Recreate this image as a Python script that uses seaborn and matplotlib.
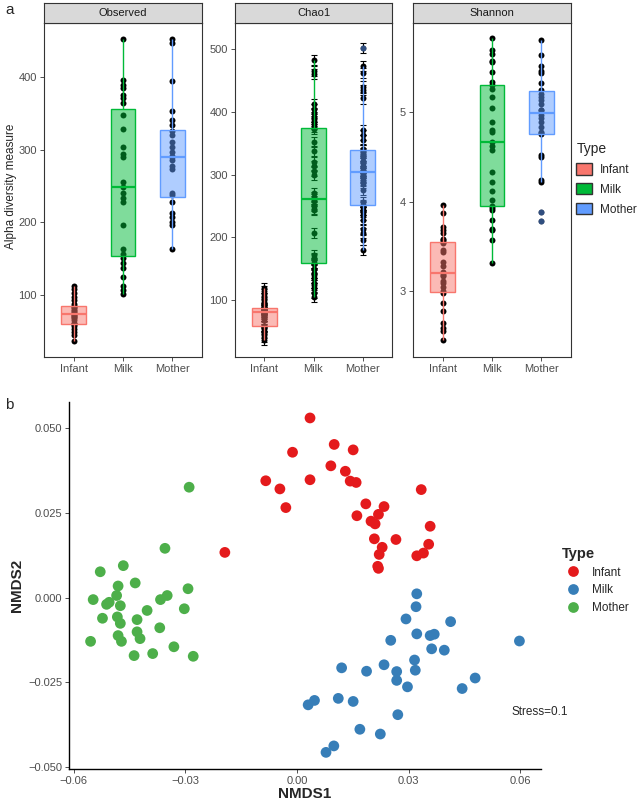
import numpy as np
import pandas as pd
import seaborn as sns
import matplotlib.pyplot as plt
from matplotlib.patches import Patch

# ---- data ----
types = ['Infant', 'Milk', 'Mother']
measures = ['Observed', 'Chao1', 'Shannon']
box_colors = ['#F8766D', '#00BA38', '#619CFF']
dot_colors = ['#E41A1C', '#377EB8', '#4DAF4A']

observed_infant = [112, 108, 103, 98, 94, 88, 85, 84, 82, 80, 78, 76, 75, 74,
                   73, 72, 70, 68, 66, 62, 60, 60, 58, 54, 50, 45, 37]
observed_milk = [452, 396, 389, 384, 375, 371, 364, 347, 329, 304, 294, 290, 256,
                 249, 241, 233, 228, 196, 163, 157, 151, 144, 137, 125, 113, 107, 102]
observed_mother = [452, 446, 394, 353, 341, 334, 325, 320, 311, 304, 297, 291, 290,
                   286, 277, 273, 240, 238, 228, 213, 208, 201, 196, 163]

chao1_infant = [119, 115, 110, 104, 98, 92, 88, 87, 86, 85, 84, 83, 82, 81, 80,
                78, 75, 70, 60, 59, 60, 58, 54, 48, 42, 37]
chao1_milk = [482, 465, 460, 412, 405, 398, 392, 385, 380, 375, 372, 352, 338, 320,
              313, 305, 300, 270, 265, 261, 258, 250, 245, 243, 207, 172, 168, 165,
              160, 158, 150, 143, 140, 135, 128, 125, 120, 112, 106]
chao1_mother = [501, 472, 461, 440, 435, 421, 371, 363, 355, 340, 339, 335, 330, 328,
                321, 318, 313, 310, 305, 304, 302, 300, 297, 295, 290, 286, 275, 257,
                252, 250, 248, 244, 240, 236, 228, 214, 207, 196, 180]
chao1_se = 8

shannon_infant = [3.96, 3.87, 3.72, 3.69, 3.65, 3.58, 3.57, 3.55, 3.54, 3.46, 3.44,
                  3.33, 3.28, 3.22, 3.20, 3.18, 3.17, 3.12, 3.09, 3.05, 3.00, 2.98,
                  2.87, 2.78, 2.65, 2.59, 2.56, 2.46]
shannon_milk = [5.82, 5.69, 5.65, 5.57, 5.56, 5.44, 5.33, 5.30, 5.26, 5.17, 5.04,
                4.89, 4.80, 4.78, 4.67, 4.62, 4.57, 4.33, 4.22, 4.12, 4.02, 3.95,
                3.93, 3.91, 3.80, 3.70, 3.69, 3.57, 3.32]
shannon_mother = [5.80, 5.63, 5.51, 5.46, 5.43, 5.32, 5.24, 5.20, 5.17, 5.13, 5.09,
                  5.02, 5.02, 4.96, 4.93, 4.89, 4.83, 4.78, 4.76, 4.75, 4.52, 4.50,
                  4.24, 4.22, 3.88, 3.78]

alpha_ylims = {'Observed': (15, 474), 'Chao1': (10, 541), 'Shannon': (2.27, 5.99)}
alpha_yticks = {'Observed': [100, 200, 300, 400],
                'Chao1': [100, 200, 300, 400, 500],
                'Shannon': [3, 4, 5]}

infant_x = [0.0035, -0.0012, 0.0100, 0.0151, 0.0091, 0.0130, 0.0143, 0.0159, -0.0084,
            -0.0046, 0.0035, -0.0030, -0.0194, 0.0334, 0.0185, 0.0234, 0.0161, 0.0219,
            0.0199, 0.0210, 0.0358, 0.0208, 0.0266, 0.0229, 0.0221, 0.0354, 0.0340,
            0.0322, 0.0217, 0.0219]
infant_y = [0.0529, 0.0428, 0.0451, 0.0435, 0.0388, 0.0372, 0.0343, 0.0339, 0.0344,
            0.0320, 0.0347, 0.0265, 0.0133, 0.0318, 0.0276, 0.0268, 0.0241, 0.0245,
            0.0225, 0.0217, 0.0210, 0.0173, 0.0171, 0.0148, 0.0127, 0.0157, 0.0131,
            0.0123, 0.0092, 0.0086]
milk_x = [0.0322, 0.0320, 0.0293, 0.0413, 0.0322, 0.0358, 0.0369, 0.0252, 0.0598,
          0.0362, 0.0396, 0.0316, 0.0318, 0.0234, 0.0268, 0.0268, 0.0297, 0.0187,
          0.0120, 0.0479, 0.0444, 0.0047, 0.0030, 0.0111, 0.0151, 0.0271, 0.0169,
          0.0224, 0.0099, 0.0078]
milk_y = [0.0011, -0.0027, -0.0063, -0.0071, -0.0107, -0.0112, -0.0108, -0.0126,
          -0.0128, -0.0151, -0.0155, -0.0184, -0.0214, -0.0198, -0.0218, -0.0244,
          -0.0263, -0.0217, -0.0207, -0.0237, -0.0268, -0.0303, -0.0316, -0.0297,
          -0.0306, -0.0345, -0.0388, -0.0402, -0.0437, -0.0456]
mother_x = [-0.0290, -0.0355, -0.0467, -0.0529, -0.0435, -0.0481, -0.0293, -0.0548,
            -0.0485, -0.0512, -0.0505, -0.0475, -0.0367, -0.0349, -0.0403, -0.0303,
            -0.0523, -0.0483, -0.0475, -0.0430, -0.0369, -0.0430, -0.0481, -0.0555,
            -0.0472, -0.0422, -0.0331, -0.0438, -0.0388, -0.0279]
mother_y = [0.0325, 0.0145, 0.0094, 0.0076, 0.0043, 0.0034, 0.0026, -0.0006, 0.0006,
            -0.0020, -0.0014, -0.0024, -0.0006, 0.0006, -0.0038, -0.0033, -0.0061,
            -0.0057, -0.0076, -0.0065, -0.0089, -0.0101, -0.0112, -0.0129, -0.0129,
            -0.0121, -0.0145, -0.0171, -0.0165, -0.0173]

nmds1_ticks = [-0.06, -0.03, 0.00, 0.03, 0.06]
nmds1_labels = ['\u22120.06', '\u22120.03', '0.00', '0.03', '0.06']
nmds2_ticks = [-0.050, -0.025, 0.000, 0.025, 0.050]
nmds2_labels = ['\u22120.050', '\u22120.025', '0.000', '0.025', '0.050']

# ---- tables ----
alpha_values = {
    'Observed': [observed_infant, observed_milk, observed_mother],
    'Chao1': [chao1_infant, chao1_milk, chao1_mother],
    'Shannon': [shannon_infant, shannon_milk, shannon_mother],
}
rows = []
for m in measures:
    for t, vals in zip(types, alpha_values[m]):
        rows += [(m, t, v) for v in vals]
alpha_df = pd.DataFrame(rows, columns=['measure', 'Type', 'value'])
alpha_df['Type'] = pd.Categorical(alpha_df['Type'], categories=types)

nmds_df = pd.concat([
    pd.DataFrame({'NMDS1': infant_x, 'NMDS2': infant_y, 'Type': 'Infant'}),
    pd.DataFrame({'NMDS1': milk_x, 'NMDS2': milk_y, 'Type': 'Milk'}),
    pd.DataFrame({'NMDS1': mother_x, 'NMDS2': mother_y, 'Type': 'Mother'}),
], ignore_index=True)

# ---- style ----
sns.set_style('white')
plt.rcParams['font.family'] = ['Liberation Sans', 'DejaVu Sans']
plt.rcParams['axes.unicode_minus'] = True

W, H = 644, 805
fig = plt.figure(figsize=(W / 100, H / 100), dpi=100)


def px_axes(x0, y0, x1, y1):
    return fig.add_axes([x0 / W, 1 - y1 / H, (x1 - x0) / W, (y1 - y0) / H])


panel_x = [(44, 202), (235, 392), (413, 571)]
tick_grey = '#4D4D4D'

for m, (x0, x1) in zip(measures, panel_x):
    ax = px_axes(x0, 23, x1, 357)
    sub = alpha_df[alpha_df['measure'] == m]
    sns.stripplot(data=sub, x='Type', y='value', order=types, jitter=False,
                  color='black', size=4.3, linewidth=0, zorder=1, ax=ax)
    if m == 'Chao1':
        ax.errorbar(sub['Type'].cat.codes, sub['value'], yerr=chao1_se, fmt='none',
                    ecolor='black', elinewidth=0.8, capsize=2, capthick=0.8, zorder=2)
    sns.boxplot(data=sub, x='Type', y='value', hue='Type', order=types, hue_order=types,
                palette=box_colors, saturation=1, width=0.5, showcaps=False, whis=1.5,
                legend=False, ax=ax,
                flierprops=dict(marker='o', markersize=4.3, markeredgewidth=0))
    for cont in ax.containers:
        if not hasattr(cont, 'boxes'):
            continue
        box = cont.boxes[0]
        c = box.get_facecolor()[:3]
        box.set_facecolor((*c, 0.5))
        box.set_edgecolor(c)
        box.set_linewidth(1)
        box.set_zorder(3)
        for ln in cont.whiskers:
            ln.set_color(c)
            ln.set_linewidth(1)
            ln.set_zorder(3)
        for ln in cont.medians:
            ln.set_color(c)
            ln.set_linewidth(1.6)
            ln.set_zorder(3)
        for fl in cont.fliers:
            fl.set_markerfacecolor(c)
            fl.set_alpha(0.5)
            fl.set_zorder(4)
    ax.set_xlim(-0.6, 2.6)
    ax.set_ylim(*alpha_ylims[m])
    ax.set_yticks(alpha_yticks[m])
    ax.set_xlabel('')
    ax.set_ylabel('')
    ax.tick_params(axis='both', labelsize=8, labelcolor=tick_grey, color='#333333',
                   length=3, width=0.6, left=True, bottom=True, pad=2)
    for sp in ax.spines.values():
        sp.set_color('#333333')
        sp.set_linewidth(0.8)

    strip = px_axes(x0, 3, x1, 23)
    strip.set_facecolor('#D9D9D9')
    strip.set_xticks([])
    strip.set_yticks([])
    for sp in strip.spines.values():
        sp.set_color('#333333')
        sp.set_linewidth(0.8)
    strip.text(0.5, 0.5, m, ha='center', va='center', fontsize=8, color='#1A1A1A',
               transform=strip.transAxes)

fig.text(11 / W, 1 - 186 / H, 'Alpha diversity measure', rotation=90,
         ha='center', va='center', fontsize=8.5)
fig.text(5 / W, 1 - 10 / H, 'a', ha='left', va='center', fontsize=11)
fig.text(5 / W, 1 - 405 / H, 'b', ha='left', va='center', fontsize=11)

box_handles = [Patch(facecolor=c, edgecolor='#333333', linewidth=1) for c in box_colors]
leg1 = fig.legend(box_handles, types, title='Type', loc='upper left',
                  bbox_to_anchor=(568 / W, 1 - 134 / H), frameon=False, fontsize=8.5,
                  title_fontsize=10, handlelength=1.3, handleheight=1.1,
                  handletextpad=0.7, labelspacing=0.6, alignment='left',
                  borderaxespad=0.3)

# ---- NMDS ----
ax2 = px_axes(69, 402, 541, 769)
sns.scatterplot(data=nmds_df, x='NMDS1', y='NMDS2', hue='Type', hue_order=types,
                palette=dot_colors, s=60, linewidth=0, ax=ax2)
ax2.set_xlim(-0.0613, 0.0656)
ax2.set_ylim(-0.0505, 0.0576)
ax2.set_xticks(nmds1_ticks)
ax2.set_xticklabels(nmds1_labels)
ax2.set_yticks(nmds2_ticks)
ax2.set_yticklabels(nmds2_labels)
ax2.set_xlabel('NMDS1', fontsize=11, fontweight='bold', labelpad=1)
ax2.set_ylabel('NMDS2', fontsize=11, fontweight='bold', labelpad=3)
ax2.tick_params(axis='both', labelsize=8, labelcolor=tick_grey, color='#333333',
                length=3, width=0.6, left=True, bottom=True, pad=2)
sns.despine(ax=ax2)
for side in ['left', 'bottom']:
    ax2.spines[side].set_color('black')
    ax2.spines[side].set_linewidth(1)
ax2.text(0.0578, -0.0338, 'Stress=0.1', ha='left', va='center', fontsize=8.5)

handles, labels = ax2.get_legend_handles_labels()
ax2.get_legend().remove()
leg2 = fig.legend(handles, labels, title='Type', loc='upper left',
                  bbox_to_anchor=(551 / W, 1 - 536 / H), frameon=False, fontsize=8.5,
                  title_fontsize=10.5, handletextpad=0.6, labelspacing=0.5,
                  alignment='left', markerscale=1.0)
leg2.get_title().set_fontweight('bold')

fig.savefig('out.png', dpi=100)
